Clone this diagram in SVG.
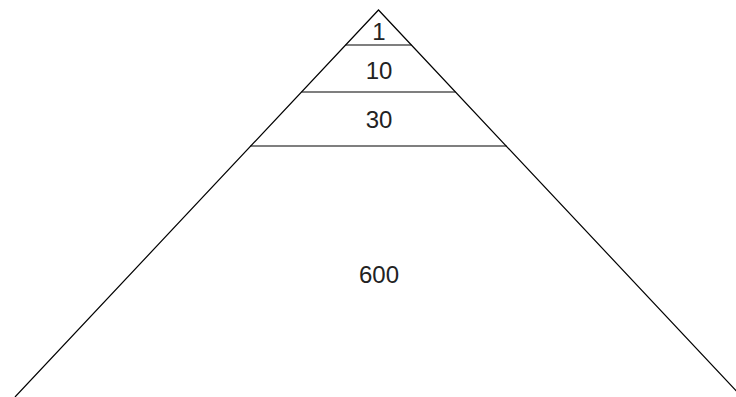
<svg xmlns="http://www.w3.org/2000/svg" width="736" height="397" viewBox="0 0 736 397">
<style>
.l{stroke:#000;stroke-width:1.2;fill:none}
.t{font-family:"Liberation Sans",Arial,sans-serif;font-size:24px;fill:#222;text-anchor:middle}
</style>
<rect width="736" height="397" fill="#fff"/>
<g id="pyramid">
<path class="l" d="M15,397 L378.5,10 L742,397"/>
</g>
<g id="connectors">
<line class="l" x1="345.6" y1="45" x2="411.4" y2="45"/>
<line class="l" x1="301.6" y1="92" x2="455.4" y2="92"/>
<line class="l" x1="250.3" y1="146" x2="506.7" y2="146"/>
</g>
<g id="tier1"><text class="t" x="379" y="40">1</text></g>
<g id="tier10"><text class="t" x="379" y="79">10</text></g>
<g id="tier30"><text class="t" x="379" y="128">30</text></g>
<g id="tier600"><text class="t" x="379" y="283">600</text></g>
</svg>
